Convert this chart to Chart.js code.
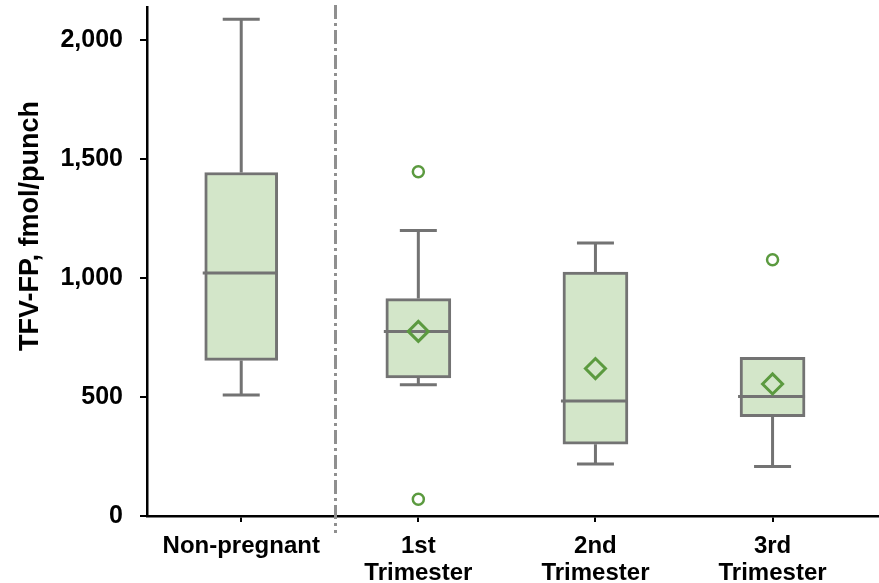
<!DOCTYPE html>
<html>
<head>
<meta charset="utf-8">
<script src="https://cdn.jsdelivr.net/npm/chart.js@4/dist/chart.umd.min.js"></script>
<style>
  html, body { margin: 0; padding: 0; background: #fff; }
  #wrap { width: 879px; height: 583px; }
</style>
</head>
<body>
<div id="wrap"><canvas id="c"></canvas></div>
<script>
// Tenofovir-diphosphate (TFV-FP) box-plot summaries per group
const categories = ['Non-pregnant', ['1st', 'Trimester'], ['2nd', 'Trimester'], ['3rd', 'Trimester']];
const whiskerLow  = [509, 552, 219, 208];
const q1          = [654, 581, 302, 418];
const median      = [1022, 776, 483, 502];
const q3          = [1444, 914, 1025, 667];
const whiskerHigh = [2088, 1200, 1148, 667];
const means       = [null, 776, 620, 555];
const outlierGroup = [1, 1, 3];
const outlierValue = [1447, 70, 1077];
const yTicks = [0, 500, 1000, 1500, 2000];
const yTitle = 'TFV-FP, fmol/punch';

const FONT = "'Liberation Sans', Arial, Helvetica, sans-serif";
const GREY = '#737373';
const GREEN = '#5b9a3f';
const FILL = '#d3e6c9';
const SEPARATOR_AT = 0.53; // between the non-pregnant and pregnant groups

const boxPoints = (idx) => idx.map(i => ({ x: i, y: [q1[i], q3[i]] }));
const refIdx = [0];
const pregIdx = categories.map((_, i) => i).filter(i => i > 0);

const boxExtras = {
  id: 'boxExtras',
  beforeDatasetsDraw(chart) {
    const { ctx, scales: { x, y } } = chart;
    // dashed separator
    ctx.save();
    ctx.strokeStyle = '#8f8f8f';
    ctx.lineWidth = 3;
    ctx.setLineDash([14, 4, 3, 4]);
    const sx = Math.round(x.getPixelForValue(SEPARATOR_AT)) + 0.5;
    ctx.beginPath();
    ctx.moveTo(sx, chart.chartArea.top - 2);
    ctx.lineTo(sx, chart.chartArea.bottom + 17);
    ctx.stroke();
    ctx.restore();

    // whiskers and caps
    ctx.save();
    ctx.strokeStyle = GREY;
    ctx.lineWidth = 3;
    categories.forEach((_, i) => {
      const cx = x.getPixelForValue(i);
      const segs = [[q3[i], whiskerHigh[i]], [q1[i], whiskerLow[i]]];
      segs.forEach(([from, to]) => {
        if (from === to) return;
        const y0 = y.getPixelForValue(from), y1 = y.getPixelForValue(to);
        ctx.beginPath();
        ctx.moveTo(cx, y0);
        ctx.lineTo(cx, y1);
        ctx.moveTo(cx - 18.5, y1);
        ctx.lineTo(cx + 18.5, y1);
        ctx.stroke();
      });
    });
    ctx.restore();
  },
  afterDatasetDraw(chart, args) {
    const ds = chart.data.datasets[args.index];
    if (!ds.isBox) return;
    const { ctx, scales: { y } } = chart;
    ctx.save();
    ctx.strokeStyle = GREY;
    ctx.lineWidth = 3;
    args.meta.data.forEach((bar, k) => {
      const i = ds.data[k].x;
      const half = bar.width / 2;
      const my = y.getPixelForValue(median[i]);
      ctx.beginPath();
      ctx.moveTo(bar.x - half - 2, my);
      ctx.lineTo(bar.x + half, my);
      ctx.stroke();
    });
    ctx.restore();
  },
  afterDraw(chart) {
    const { ctx, chartArea } = chart;
    ctx.save();
    ctx.translate(31, chartArea.top + 219);
    ctx.rotate(-Math.PI / 2);
    ctx.font = 'bold 27px ' + FONT;
    ctx.fillStyle = '#000';
    ctx.textAlign = 'center';
    ctx.textBaseline = 'middle';
    ctx.fillText(yTitle, 0, 0);
    ctx.restore();
  }
};

new Chart(document.getElementById('c'), {
  type: 'bar',
  data: {
    datasets: [
      {
        type: 'scatter',
        label: 'Mean',
        data: means.map((v, i) => v === null ? null : { x: i, y: v }).filter(Boolean),
        pointStyle: 'rectRot',
        pointRadius: 10,
        pointBorderWidth: 3,
        borderColor: GREEN,
        backgroundColor: 'rgba(0,0,0,0)',
        showLine: false
      },
      {
        type: 'scatter',
        label: 'Outlier',
        data: outlierValue.map((v, k) => ({ x: outlierGroup[k], y: v })),
        pointStyle: 'circle',
        pointRadius: 5.5,
        pointBorderWidth: 2.5,
        borderColor: GREEN,
        backgroundColor: 'rgba(0,0,0,0)',
        showLine: false
      },
      {
        label: 'Non-pregnant',
        isBox: true,
        data: boxPoints(refIdx),
        grouped: false,
        barThickness: 73,
        backgroundColor: FILL,
        borderColor: GREY,
        borderWidth: 3,
        borderSkipped: false
      },
      {
        label: 'Pregnant',
        isBox: true,
        data: boxPoints(pregIdx),
        grouped: false,
        barThickness: 65,
        backgroundColor: FILL,
        borderColor: GREY,
        borderWidth: 3,
        borderSkipped: false
      }
    ]
  },
  options: {
    responsive: true,
    maintainAspectRatio: false,
    animation: false,
    events: [],
    layout: { autoPadding: false, padding: { top: 7, right: 0, left: 0, bottom: 0 } },
    plugins: { legend: { display: false }, tooltip: { enabled: false } },
    scales: {
      x: {
        type: 'linear',
        offset: false,
        min: -0.532,
        max: 3.601,
        afterBuildTicks: (s) => { s.ticks = categories.map((_, i) => ({ value: i })); },
        afterFit: (s) => { s.height = 67; s.paddingLeft = 0; s.paddingRight = 0; },
        ticks: {
          callback: (v) => categories[v],
          autoSkip: false,
          maxRotation: 0,
          color: '#000',
          font: { family: FONT, size: 24, weight: 'bold', lineHeight: 1.12 },
          padding: 11
        },
        grid: { offset: false, drawOnChartArea: false, drawTicks: true, tickLength: 6, color: '#000', lineWidth: 2 },
        border: { display: true, color: '#000', width: 2.5 }
      },
      y: {
        min: 0,
        max: 2140,
        afterBuildTicks: (s) => { s.ticks = yTicks.map(v => ({ value: v })); },
        afterFit: (s) => { s.width = 147; s.paddingTop = 0; s.paddingBottom = 0; },
        ticks: {
          callback: (v) => v.toLocaleString('en-US'),
          color: '#000',
          font: { family: FONT, size: 25, weight: 'bold' },
          padding: 17
        },
        grid: { drawOnChartArea: false, drawTicks: true, tickLength: 7, color: '#000', lineWidth: 2 },
        border: { display: true, color: '#000', width: 2.5 }
      }
    }
  },
  plugins: [boxExtras]
});
</script>
</body>
</html>
